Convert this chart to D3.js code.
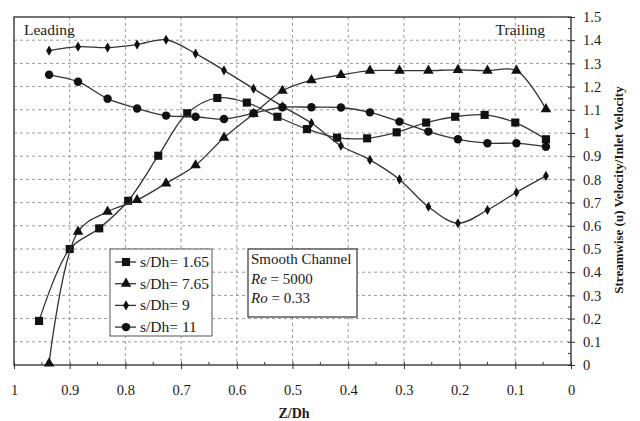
<!DOCTYPE html>
<html>
<head>
<meta charset="utf-8">
<script src="https://cdn.jsdelivr.net/npm/d3@7"></script>
<style>
  body { margin: 0; background: #fff; }
  svg { display: block; }
  svg text { font-family: "Liberation Serif", "Times New Roman", "DejaVu Serif", serif; fill: #1a1a1a; }
</style>
</head>
<body>
<svg id="chart" width="640" height="421"></svg>
<script>
// Z/Dh positions
const zSquare = [0.955, 0.900, 0.847, 0.795, 0.741, 0.689, 0.635, 0.582, 0.527, 0.474, 0.420, 0.366, 0.313, 0.260, 0.208, 0.155, 0.100, 0.045];
const zOther = [0.937, 0.885, 0.832, 0.779, 0.727, 0.674, 0.623, 0.570, 0.518, 0.466, 0.413, 0.361, 0.308, 0.256, 0.203, 0.150, 0.098, 0.045];

// streamwise velocity / inlet velocity
const s165 = [0.19, 0.50, 0.589, 0.708, 0.902, 1.085, 1.151, 1.131, 1.070, 1.017, 0.980, 0.977, 1.003, 1.045, 1.070, 1.078, 1.045, 0.973];
const s765 = [0.007, 0.575, 0.661, 0.711, 0.783, 0.861, 0.980, 1.082, 1.182, 1.228, 1.250, 1.269, 1.269, 1.269, 1.272, 1.269, 1.269, 1.103];
const s9 = [1.355, 1.372, 1.368, 1.381, 1.402, 1.342, 1.270, 1.191, 1.115, 1.043, 0.945, 0.884, 0.800, 0.682, 0.611, 0.668, 0.744, 0.815];
const s11 = [1.251, 1.221, 1.148, 1.106, 1.075, 1.070, 1.060, 1.085, 1.111, 1.111, 1.110, 1.089, 1.049, 1.006, 0.973, 0.956, 0.956, 0.941];

const seriesNames = ["s/Dh= 1.65", "s/Dh= 7.65", "s/Dh= 9", "s/Dh= 11"];
const xTicks = [1, 0.9, 0.8, 0.7, 0.6, 0.5, 0.4, 0.3, 0.2, 0.1, 0];
const yTicks = [0, 0.1, 0.2, 0.3, 0.4, 0.5, 0.6, 0.7, 0.8, 0.9, 1, 1.1, 1.2, 1.3, 1.4, 1.5];
const noteLines = [["Smooth Channel", ""], ["Re", " = 5000"], ["Ro", " = 0.33"]];

const series = [
  { name: seriesNames[0], z: zSquare, v: s165, sym: d3.symbolSquare, size: 66 },
  { name: seriesNames[1], z: zOther, v: s765, sym: d3.symbolTriangle, size: 48 },
  { name: seriesNames[2], z: zOther, v: s9, sym: d3.symbolDiamond, size: 30 },
  { name: seriesNames[3], z: zOther, v: s11, sym: d3.symbolCircle, size: 56 }
];

const svg = d3.select("#chart");
const plotL = 14, plotR = 571, plotT = 17, plotB = 365;

const x = d3.scaleLinear().domain([1, 0]).range([plotL, plotR]);
const y = d3.scaleLinear().domain([0, 1.5]).range([plotB, plotT]);

// grid
const grid = svg.append("g").attr("stroke", "#9a9a9a").attr("stroke-width", 1).attr("stroke-dasharray", "3,3");
grid.selectAll("line.h").data(yTicks.slice(1, -1)).join("line")
  .attr("x1", plotL).attr("x2", plotR)
  .attr("y1", d => y(d)).attr("y2", d => y(d));
grid.selectAll("line.v").data(xTicks.slice(1, -1)).join("line")
  .attr("y1", plotT).attr("y2", plotB)
  .attr("x1", d => x(d)).attr("x2", d => x(d));

// minor ticks
const minor = svg.append("g").attr("stroke", "#333").attr("stroke-width", 1);
minor.selectAll("line.mx").data(d3.range(0.05, 1, 0.1)).join("line")
  .attr("x1", d => x(d)).attr("x2", d => x(d)).attr("y1", plotB).attr("y2", plotB - 3);
minor.selectAll("line.my").data(d3.range(0.05, 1.5, 0.1)).join("line")
  .attr("y1", d => y(d)).attr("y2", d => y(d)).attr("x1", plotR).attr("x2", plotR - 3);

// frame
svg.append("rect")
  .attr("x", plotL).attr("y", plotT).attr("width", plotR - plotL).attr("height", plotB - plotT)
  .attr("fill", "none").attr("stroke", "#444").attr("stroke-width", 1.5);

// axes
const xAxis = d3.axisBottom(x).tickValues(xTicks).tickFormat(d3.format("")).tickSizeInner(4).tickSizeOuter(0);
svg.append("g").attr("transform", `translate(0,${plotB})`).call(xAxis)
  .call(g => g.select(".domain").remove())
  .call(g => g.selectAll(".tick line").attr("y1", -3).attr("stroke", "#333"))
  .call(g => g.selectAll("text").attr("dy", 0).attr("y", 30)
    .attr("font-size", 14.5).attr("fill", "#1a1a1a"));

const yAxis = d3.axisRight(y).tickValues(yTicks).tickFormat(d3.format("")).tickSizeInner(4).tickSizeOuter(0);
svg.append("g").attr("transform", `translate(${plotR},0)`).call(yAxis)
  .call(g => g.select(".domain").remove())
  .call(g => g.selectAll(".tick line").attr("x1", -3).attr("stroke", "#333"))
  .call(g => g.selectAll("text").attr("x", 12)
    .attr("font-size", 14.5).attr("fill", "#1a1a1a"));

// axis titles
svg.append("text")
  .attr("x", 294).attr("y", 418).attr("text-anchor", "middle")
  .attr("font-size", 14).attr("font-weight", "bold")
  .text("Z/Dh");
svg.append("text")
  .attr("transform", "translate(623,190) rotate(-90)").attr("text-anchor", "middle")
  .attr("font-size", 13).attr("font-weight", "bold")
  .text("Streamwise (u) Velocity/Inlet Velocity");

// corner labels
svg.append("text").attr("x", 24).attr("y", 35).attr("font-size", 15.5).text("Leading");
svg.append("text").attr("x", 545).attr("y", 35).attr("text-anchor", "end").attr("font-size", 15.5).text("Trailing");

// series
const line = d3.line().x(d => x(d[0])).y(d => y(d[1])).curve(d3.curveCatmullRom.alpha(0.5));
series.forEach(s => {
  const pts = s.z.map((z, i) => [z, s.v[i]]);
  svg.append("path").datum(pts)
    .attr("d", line).attr("fill", "none").attr("stroke", "#333").attr("stroke-width", 1.3);
  svg.append("g").selectAll("path").data(pts).join("path")
    .attr("transform", d => `translate(${x(d[0])},${y(d[1])})`)
    .attr("d", d3.symbol().type(s.sym).size(s.size))
    .attr("fill", "#111");
});

// legend
const legend = svg.append("g");
legend.append("rect")
  .attr("x", 110).attr("y", 249).attr("width", 102).attr("height", 87)
  .attr("fill", "#fff").attr("stroke", "#555").attr("stroke-width", 1);
series.forEach((s, i) => {
  const ly = 262 + i * 21.7;
  legend.append("line").attr("x1", 115).attr("x2", 136).attr("y1", ly).attr("y2", ly)
    .attr("stroke", "#333").attr("stroke-width", 1.3);
  legend.append("path").attr("transform", `translate(126,${ly})`)
    .attr("d", d3.symbol().type(s.sym).size(s.size)).attr("fill", "#111");
  legend.append("text").attr("x", 140).attr("y", ly + 5)
    .attr("font-size", 15.5).text(s.name);
});

// annotation box
const note = svg.append("g");
note.append("rect")
  .attr("x", 248).attr("y", 249).attr("width", 109).attr("height", 68)
  .attr("fill", "#fff").attr("stroke", "#444").attr("stroke-width", 1.3);
noteLines.forEach((l, i) => {
  const t = note.append("text").attr("x", 251).attr("y", 264 + i * 19.5)
    .attr("font-size", 15);
  t.append("tspan").attr("font-style", i > 0 ? "italic" : "normal").text(l[0]);
  t.append("tspan").text(l[1]);
});
</script>
</body>
</html>
